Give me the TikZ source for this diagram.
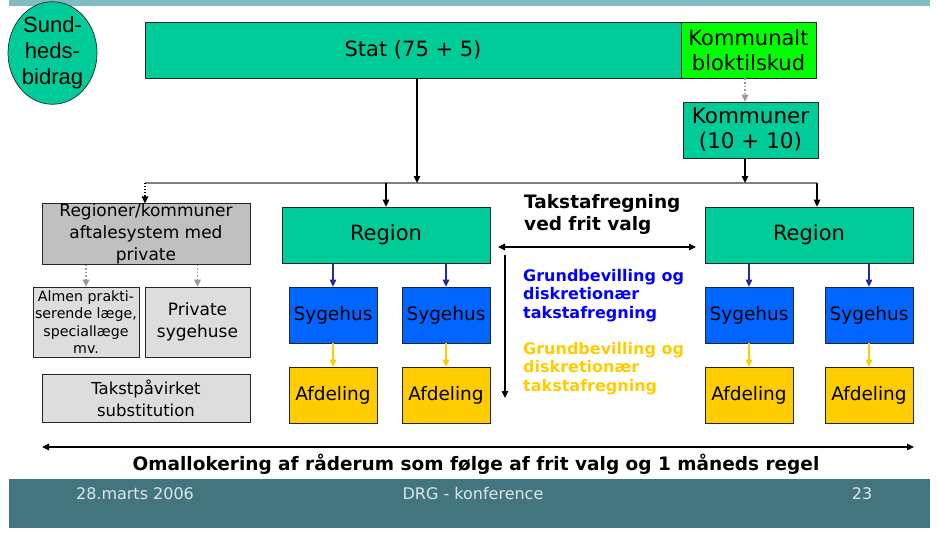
\documentclass[tikz,border=0pt]{standalone}
\usepackage{fontspec}
\setmainfont{DejaVu Sans}
\newfontfamily\arialfont{Liberation Sans}
\usepackage{tikz}
\usetikzlibrary{arrows.meta}
\usetikzlibrary{shapes.geometric}

\definecolor{statgreen}{HTML}{00CC99}
\definecolor{kbtgreen}{HTML}{00FF00}
\definecolor{sygblue}{HTML}{0066FF}
\definecolor{afdyellow}{HTML}{FFCC00}
\definecolor{privgray}{HTML}{C0C0C0}
\definecolor{subgray}{HTML}{DDDDDD}
\definecolor{navyline}{HTML}{1F2D96}
\definecolor{textblue}{HTML}{0000FF}
\definecolor{footteal}{HTML}{43757F}
\definecolor{topteal}{HTML}{80BCC2}
\definecolor{foottext}{HTML}{DDE6E8}
\newcommand{\fsz}[2]{\fontsize{#1}{#2}\selectfont}

\begin{document}
\begin{tikzpicture}[x=1pt, y=-1pt, >={Triangle[length=7pt,width=6.5pt]},
    box/.style={draw=black!85, line width=0.7pt, inner sep=0pt, align=center},
    conn/.style={line width=1.1pt},
    greydots/.style={draw=gray!80, dotted, line width=1.6pt},
    navyarrow/.style={draw=navyline, line width=1.4pt},
    yellowarrow/.style={draw=afdyellow, line width=1.4pt}]
    \useasboundingbox (0,0) rectangle (937,533);
    \fill[topteal] (9,0) rectangle (930,6);
    \fill[footteal] (9,479) rectangle (930,528);

    % top row
    \node[ellipse, draw=black!85, line width=0.7pt, fill=statgreen, inner sep=0pt,
      minimum width=89, minimum height=94, align=center, font=\arialfont\fsz{22}{26}]
      (sund) at (52.5,53) {Sund-\\heds-\\bidrag};
    \node[box, fill=statgreen, minimum width=536, minimum height=56, font=\fsz{21}{24}]
      (stat) at (413,50) {Stat (75 + 5)};
    \node[box, fill=kbtgreen, minimum width=135, minimum height=56, font=\fsz{21}{25}]
      (kbt) at (748.5,50) {Kommunalt\\bloktilskud};
    \node[box, fill=statgreen, minimum width=135, minimum height=56, font=\fsz{21.5}{25}]
      (komm) at (750.5,130) {Kommuner\\(10 + 10)};

    % regions
    \node[box, fill=statgreen, minimum width=208, minimum height=56, font=\fsz{21}{24}]
      (regA) at (386,235) {Region};
    \node[box, fill=statgreen, minimum width=208, minimum height=56, font=\fsz{21}{24}]
      (regB) at (809,235) {Region};
    \node[box, fill=sygblue, minimum width=88, minimum height=56, font=\fsz{18.5}{22}]
      (sygA1) at (333,315) {Sygehus};
    \node[box, fill=sygblue, minimum width=88, minimum height=56, font=\fsz{18.5}{22}]
      (sygA2) at (446,315) {Sygehus};
    \node[box, fill=sygblue, minimum width=88, minimum height=56, font=\fsz{18.5}{22}]
      (sygB1) at (749,315) {Sygehus};
    \node[box, fill=sygblue, minimum width=88, minimum height=56, font=\fsz{18.5}{22}]
      (sygB2) at (869,315) {Sygehus};
    \node[box, fill=afdyellow, minimum width=88, minimum height=56, font=\fsz{18.5}{22}]
      (afdA1) at (333,395) {Afdeling};
    \node[box, fill=afdyellow, minimum width=88, minimum height=56, font=\fsz{18.5}{22}]
      (afdA2) at (446,395) {Afdeling};
    \node[box, fill=afdyellow, minimum width=88, minimum height=56, font=\fsz{18.5}{22}]
      (afdB1) at (749,395) {Afdeling};
    \node[box, fill=afdyellow, minimum width=88, minimum height=56, font=\fsz{18.5}{22}]
      (afdB2) at (869,395) {Afdeling};

    % private side
    \node[box, fill=privgray, minimum width=208, minimum height=56, font=\fsz{17}{22}]
      (priv) at (146,234) {Regioner/kommuner\\aftalesystem med\\private};
    \node[box, fill=subgray, minimum width=106, minimum height=70, font=\fsz{14.2}{17.5}]
      (almen) at (86,322) {Almen prakti-\\serende læge,\\speciallæge\\mv.};
    \node[box, fill=subgray, minimum width=105, minimum height=70, font=\fsz{17}{22}]
      (pshus) at (197.5,322) {Private\\sygehuse};
    \node[box, fill=subgray, minimum width=208, minimum height=48, font=\fsz{16.5}{22}]
      (subst) at (146,398) {Takstpåvirket\\substitution};

    % texts in the middle
    \node[anchor=west, align=left, inner sep=0pt, font=\bfseries\fsz{18.5}{22}]
      (tftext) at (524,214) {Takstafregning\\ved frit valg};
    \node[anchor=west, align=left, inner sep=0pt, text=textblue, font=\bfseries\fsz{16}{18.5}]
      (bluetext) at (523,295.5) {Grundbevilling og\\diskretionær\\takstafregning};
    \node[anchor=west, align=left, inner sep=0pt, text=afdyellow, font=\bfseries\fsz{16}{18.5}]
      (yellowtext) at (523,368.5) {Grundbevilling og\\diskretionær\\takstafregning};
    \node[inner sep=0pt, font=\bfseries\fsz{18.5}{20}]
      (omtext) at (476,464) {Omallokering af råderum som følge af frit valg og 1 måneds regel};

    % footer
    \node[inner sep=0pt, text=foottext, font=\fsz{16}{18}] (date) at (135,494) {28.marts 2006};
    \node[inner sep=0pt, text=foottext, font=\fsz{16}{18}] (conf) at (473,494) {DRG - konference};
    \node[inner sep=0pt, text=foottext, font=\fsz{16}{18}] (page) at (862,494) {23};

    % distribution line
    \coordinate (lnL) at (145,183);
    \coordinate (lnR) at (817,183);
    \coordinate (jStat) at (417,183);
    \coordinate (jKomm) at (745,183);
    \draw[conn, gray] (lnL) -- (lnR);
    \draw[conn, ->] (stat.south -| jStat) -- (jStat);
    \draw[conn, ->] (komm.south -| jKomm) -- (jKomm);
    \draw[conn, ->] (regA.north |- lnL) -- (regA.north);
    \draw[conn, ->] (lnR) -- (regB.north -| lnR);
    \draw[conn, ->, dotted, line width=1.5pt] (lnL) -- (priv.north -| lnL);
    \draw[greydots, ->] (kbt.south -| jKomm) -- (komm.north -| jKomm);

    % region to hospitals to departments
    \draw[navyarrow, ->] (regA.south -| sygA1) -- (sygA1.north);
    \draw[navyarrow, ->] (regA.south -| sygA2) -- (sygA2.north);
    \draw[navyarrow, ->] (regB.south -| sygB1) -- (sygB1.north);
    \draw[navyarrow, ->] (regB.south -| sygB2) -- (sygB2.north);
    \draw[yellowarrow, ->] (sygA1) -- (afdA1);
    \draw[yellowarrow, ->] (sygA2) -- (afdA2);
    \draw[yellowarrow, ->] (sygB1) -- (afdB1);
    \draw[yellowarrow, ->] (sygB2) -- (afdB2);

    % private agreements
    \draw[greydots, ->] (priv.south -| almen) -- (almen.north);
    \draw[greydots, ->] (priv.south -| pshus) -- (pshus.north);

    % free choice arrows
    \coordinate (tfL) at (498,247);
    \coordinate (tfR) at (696,247);
    \draw[conn, <->] (tfL) -- (tfR);
    \coordinate (vT) at (505,255);
    \coordinate (vB) at (505,398);
    \draw[conn, ->] (vT) -- (vB);
    \coordinate (omL) at (42,447);
    \coordinate (omR) at (914,447);
    \draw[conn, line width=1.5pt, <->] (omL) -- (omR);
\end{tikzpicture}
\end{document}
